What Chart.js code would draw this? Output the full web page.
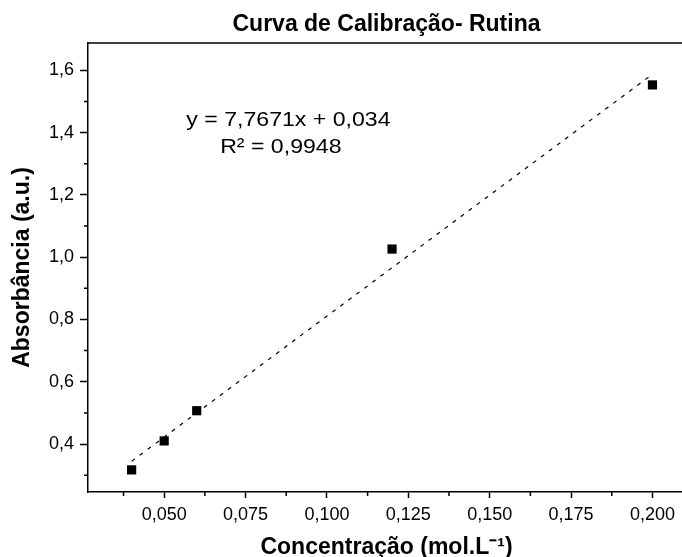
<!DOCTYPE html>
<html>
<head>
<meta charset="utf-8">
<script src="https://cdn.jsdelivr.net/npm/chart.js@4/dist/chart.umd.min.js"></script>
<style>
  html, body { margin: 0; padding: 0; background: #fff; overflow: hidden; }
  canvas { display: block; }
</style>
</head>
<body>
<canvas id="chart" width="685" height="557"></canvas>
<script>
// measured points
var concentracao = [0.04, 0.05, 0.06, 0.12, 0.20];
var absorbancia = [0.317, 0.410, 0.507, 1.026, 1.553];

// linear fit y = 7,7671x + 0,034 (end points of the dashed line)
var fitX = [0.04, 0.20];
var fitY = [0.3447, 1.5874];

var xTicks = [0.050, 0.075, 0.100, 0.125, 0.150, 0.175, 0.200];
var xTickLabels = ['0,050', '0,075', '0,100', '0,125', '0,150', '0,175', '0,200'];
var xMinor = [0.0375, 0.0625, 0.0875, 0.1125, 0.1375, 0.1625, 0.1875];
var yTicks = [0.4, 0.6, 0.8, 1.0, 1.2, 1.4, 1.6];
var yTickLabels = ['0,4', '0,6', '0,8', '1,0', '1,2', '1,4', '1,6'];
var yMinor = [0.3, 0.5, 0.7, 0.9, 1.1, 1.3, 1.5];

var equation = ['y = 7,7671x + 0,034', 'R² = 0,9948'];
var equationPos = [[0.0568, 1.421], [0.0672, 1.334]];

var FONT = '"Liberation Sans", Arial, sans-serif';

var extras = {
  id: 'extras',
  afterDraw: function(chart) {
    var ctx = chart.ctx;
    var area = chart.chartArea;
    var x = chart.scales.x, y = chart.scales.y;
    ctx.save();
    ctx.strokeStyle = '#000';
    ctx.lineWidth = 1.5;
    ctx.beginPath();
    ctx.moveTo(area.left, area.top);
    ctx.lineTo(area.right, area.top);
    xMinor.forEach(function(v) {
      var px = x.getPixelForValue(v);
      ctx.moveTo(px, area.bottom);
      ctx.lineTo(px, area.bottom + 4);
    });
    yMinor.forEach(function(v) {
      var py = y.getPixelForValue(v);
      ctx.moveTo(area.left, py);
      ctx.lineTo(area.left - 4, py);
    });
    ctx.stroke();

    // equation text, slightly wide like the original
    ctx.fillStyle = '#000';
    ctx.font = '21px ' + FONT;
    ctx.textAlign = 'left';
    ctx.textBaseline = 'alphabetic';
    equation.forEach(function(t, i) {
      var px = x.getPixelForValue(equationPos[i][0]);
      var py = y.getPixelForValue(equationPos[i][1]);
      ctx.save();
      ctx.translate(px, py);
      ctx.scale(1.1, 1);
      ctx.fillText(t, 0, 0);
      ctx.restore();
    });
    ctx.restore();
  }
};

new Chart(document.getElementById('chart'), {
  type: 'scatter',
  data: {
    datasets: [{
      data: concentracao.map(function(c, i) { return {x: c, y: absorbancia[i]}; }),
      pointStyle: 'rect',
      pointRadius: 6.5,
      pointHoverRadius: 6.5,
      backgroundColor: '#000',
      borderWidth: 0
    }, {
      type: 'line',
      data: fitX.map(function(c, i) { return {x: c, y: fitY[i]}; }),
      borderColor: '#000',
      borderWidth: 1.2,
      borderDash: [4, 6],
      pointRadius: 0,
      fill: false
    }]
  },
  options: {
    responsive: false,
    animation: false,
    layout: { padding: 0, autoPadding: false },
    plugins: {
      legend: { display: false },
      tooltip: { enabled: false },
      title: {
        display: true,
        text: 'Curva de Calibração- Rutina',
        color: '#000',
        fullSize: false,
        font: { family: FONT, size: 23, weight: 'bold', lineHeight: 1.2 },
        padding: { top: 10.4, bottom: 5 }
      }
    },
    scales: {
      x: {
        type: 'linear',
        min: 0.0266,
        max: 0.21,
        afterFit: function(s) { s.height = 65; },
        afterBuildTicks: function(s) { s.ticks = xTicks.map(function(v) { return {value: v}; }); },
        border: { display: true, color: '#000', width: 1.5 },
        grid: { drawOnChartArea: false, drawTicks: true, tickLength: 6, tickColor: '#000', tickWidth: 1.5 },
        ticks: {
          color: '#000',
          padding: 6,
          maxRotation: 0,
          font: { family: FONT, size: 18 },
          callback: function(v, i) { return xTickLabels[i]; }
        },
        title: {
          display: true,
          text: 'Concentração (mol.L⁻¹)',
          color: '#000',
          font: { family: FONT, size: 23, weight: 'bold', lineHeight: 0.8 },
          padding: { top: 0, bottom: 0 }
        }
      },
      y: {
        type: 'linear',
        min: 0.246,
        max: 1.6876,
        afterFit: function(s) { s.width = 88; },
        afterBuildTicks: function(s) { s.ticks = yTicks.map(function(v) { return {value: v}; }); },
        border: { display: true, color: '#000', width: 1.5 },
        grid: { drawOnChartArea: false, drawTicks: true, tickLength: 8, tickColor: '#000', tickWidth: 1.5 },
        ticks: {
          color: '#000',
          padding: 6,
          font: { family: FONT, size: 18 },
          callback: function(v, i) { return yTickLabels[i]; }
        },
        title: {
          display: true,
          text: 'Absorbância (a.u.)',
          color: '#000',
          font: { family: FONT, size: 23, weight: 'bold', lineHeight: 1.2 },
          padding: { top: 9, bottom: 0 }
        }
      }
    }
  },
  plugins: [extras]
});
</script>
</body>
</html>
